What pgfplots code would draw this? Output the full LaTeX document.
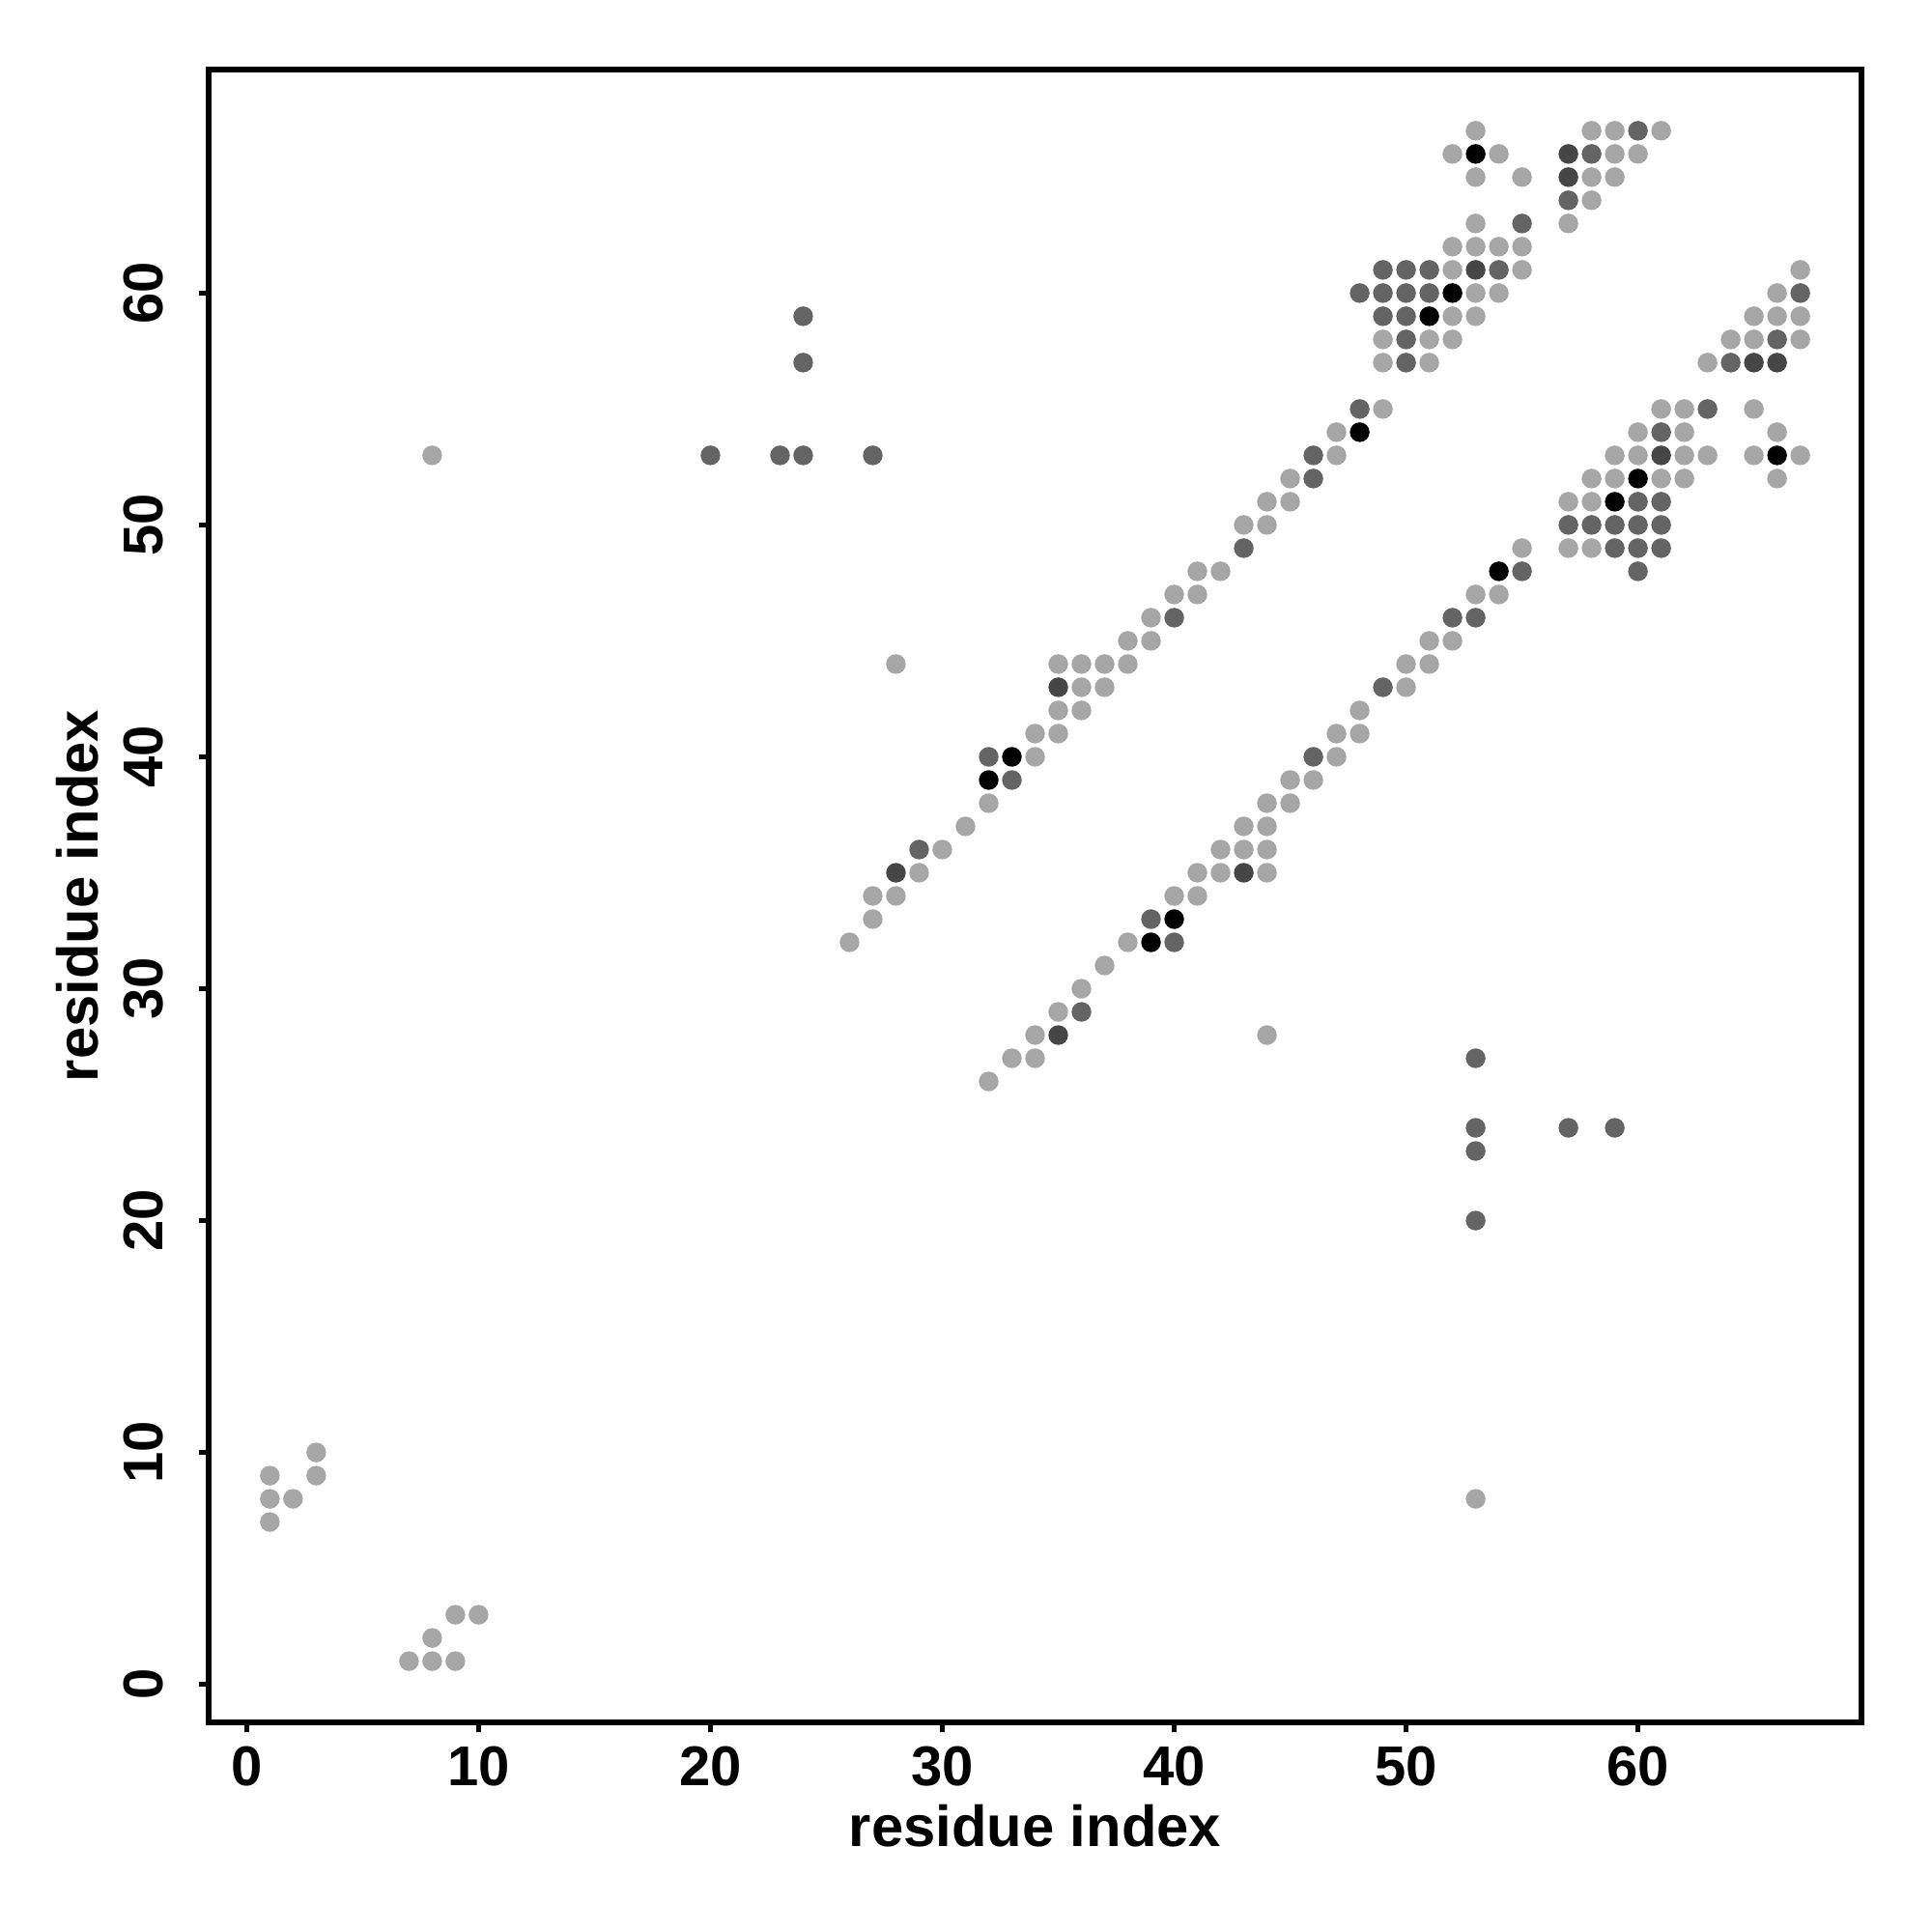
\documentclass[border=0pt]{standalone}
\usepackage{fontspec}
\setmainfont{Liberation Sans}
\usepackage{pgfplots}
\pgfplotsset{compat=1.18}
\definecolor{cL}{RGB}{166,166,166}
\definecolor{cM}{RGB}{100,100,100}
\definecolor{cD}{RGB}{70,70,70}
\definecolor{cK}{RGB}{0,0,0}
\begin{document}
\begin{tikzpicture}
\begin{axis}[
  at={(0,0)}, anchor=south west,
  scale only axis, width=17.11cm, height=17.11cm,
  xmin=-1.64, xmax=69.64, ymin=-1.64, ymax=69.64,
  axis line style={line width=1.6pt},
  xtick={0,10,...,60}, ytick={0,10,...,60},
  xtick pos=bottom, ytick pos=left,
  tick align=outside, major tick length=0.1cm,
  tick style={line width=1.6pt, black},
  /pgf/number format/assume math mode=true,
  ticklabel style={font=\fontsize{16.5}{19}\selectfont\bfseries},
  xticklabel style={anchor=north, inner sep=0pt},
  xticklabel shift=0.14cm,
  yticklabel style={rotate=90, anchor=south, inner sep=0pt},
  yticklabel shift=0.36cm,
  xlabel={residue index}, ylabel={residue index},
  label style={font=\fontsize{17}{20}\selectfont\bfseries},
  xlabel style={at={(axis description cs:0.5,-0.0625)}, anchor=center},
  ylabel style={at={(axis description cs:-0.0795,0.5)}, anchor=center},
  only marks, mark=*, mark size=2.7pt,
  clip=false,
]
\addplot[color=cL, mark=*, mark size=2.7pt] coordinates {
(53,67)(58,67)(59,67)(61,67)
(52,66)(54,66)(59,66)(60,66)
(53,65)(55,65)(58,65)(59,65)
(58,64)
(53,63)(57,63)
(52,62)(53,62)(54,62)(55,62)
(52,61)(55,61)(67,61)
(53,60)(54,60)(66,60)
(52,59)(53,59)(65,59)(66,59)(67,59)
(49,58)(51,58)(52,58)(64,58)(65,58)(67,58)
(49,57)(51,57)(63,57)
(49,55)(61,55)(62,55)(65,55)
(47,54)(60,54)(62,54)(66,54)
(8,53)(47,53)(59,53)(60,53)(62,53)(63,53)(65,53)(67,53)
(45,52)(58,52)(59,52)(61,52)(62,52)(66,52)
(44,51)(45,51)(57,51)(58,51)
(43,50)(44,50)
(55,49)(57,49)(58,49)
(41,48)(42,48)
(40,47)(41,47)(53,47)(54,47)
(39,46)
(38,45)(39,45)(51,45)(52,45)
(28,44)(35,44)(36,44)(37,44)(38,44)(50,44)(51,44)
(36,43)(37,43)(50,43)
(35,42)(36,42)(48,42)
(34,41)(35,41)(47,41)(48,41)
(34,40)(47,40)
(45,39)(46,39)
(32,38)(44,38)(45,38)
(31,37)(43,37)(44,37)
(30,36)(42,36)(43,36)(44,36)
(29,35)(41,35)(42,35)(44,35)
(27,34)(28,34)(40,34)(41,34)
(27,33)
(26,32)(38,32)
(37,31)(36,30)(35,29)(34,28)(44,28)(33,27)(34,27)(32,26)
(3,10)(1,9)(3,9)(1,8)(2,8)(53,8)(1,7)(9,3)(10,3)(8,2)(7,1)(8,1)(9,1)
};
\addplot[color=cM, mark=*, mark size=2.7pt] coordinates {
(60,67)(58,66)(57,64)(55,63)
(49,61)(50,61)(51,61)(54,61)
(48,60)(49,60)(50,60)(51,60)(67,60)
(24,59)(49,59)(50,59)
(50,58)(66,58)
(24,57)(50,57)(64,57)
(48,55)(63,55)
(61,54)
(20,53)(23,53)(24,53)(27,53)(46,53)
(46,52)
(60,51)(61,51)
(57,50)(58,50)(59,50)(60,50)(61,50)
(43,49)(59,49)(60,49)(61,49)
(55,48)(60,48)
(40,46)(52,46)(53,46)
(49,43)
(32,40)(46,40)
(33,39)
(29,36)
(39,33)
(40,32)
(36,29)
(53,27)
(53,24)(57,24)(59,24)
(53,23)(53,20)
};
\addplot[color=cD, mark=*, mark size=2.7pt] coordinates {
(57,66)(57,65)(53,61)(65,57)(66,57)(61,53)(35,43)(28,35)(43,35)(35,28)
};
\addplot[color=cK, mark=*, mark size=2.7pt] coordinates {
(53,66)(52,60)(51,59)(48,54)(66,53)(60,52)(59,51)(54,48)(33,40)(32,39)(40,33)(39,32)
};
\end{axis}
\pgfresetboundingbox
\path[use as bounding box] (-2.16cm,-2.17cm) rectangle (17.84cm,17.83cm);
\end{tikzpicture}
\end{document}
